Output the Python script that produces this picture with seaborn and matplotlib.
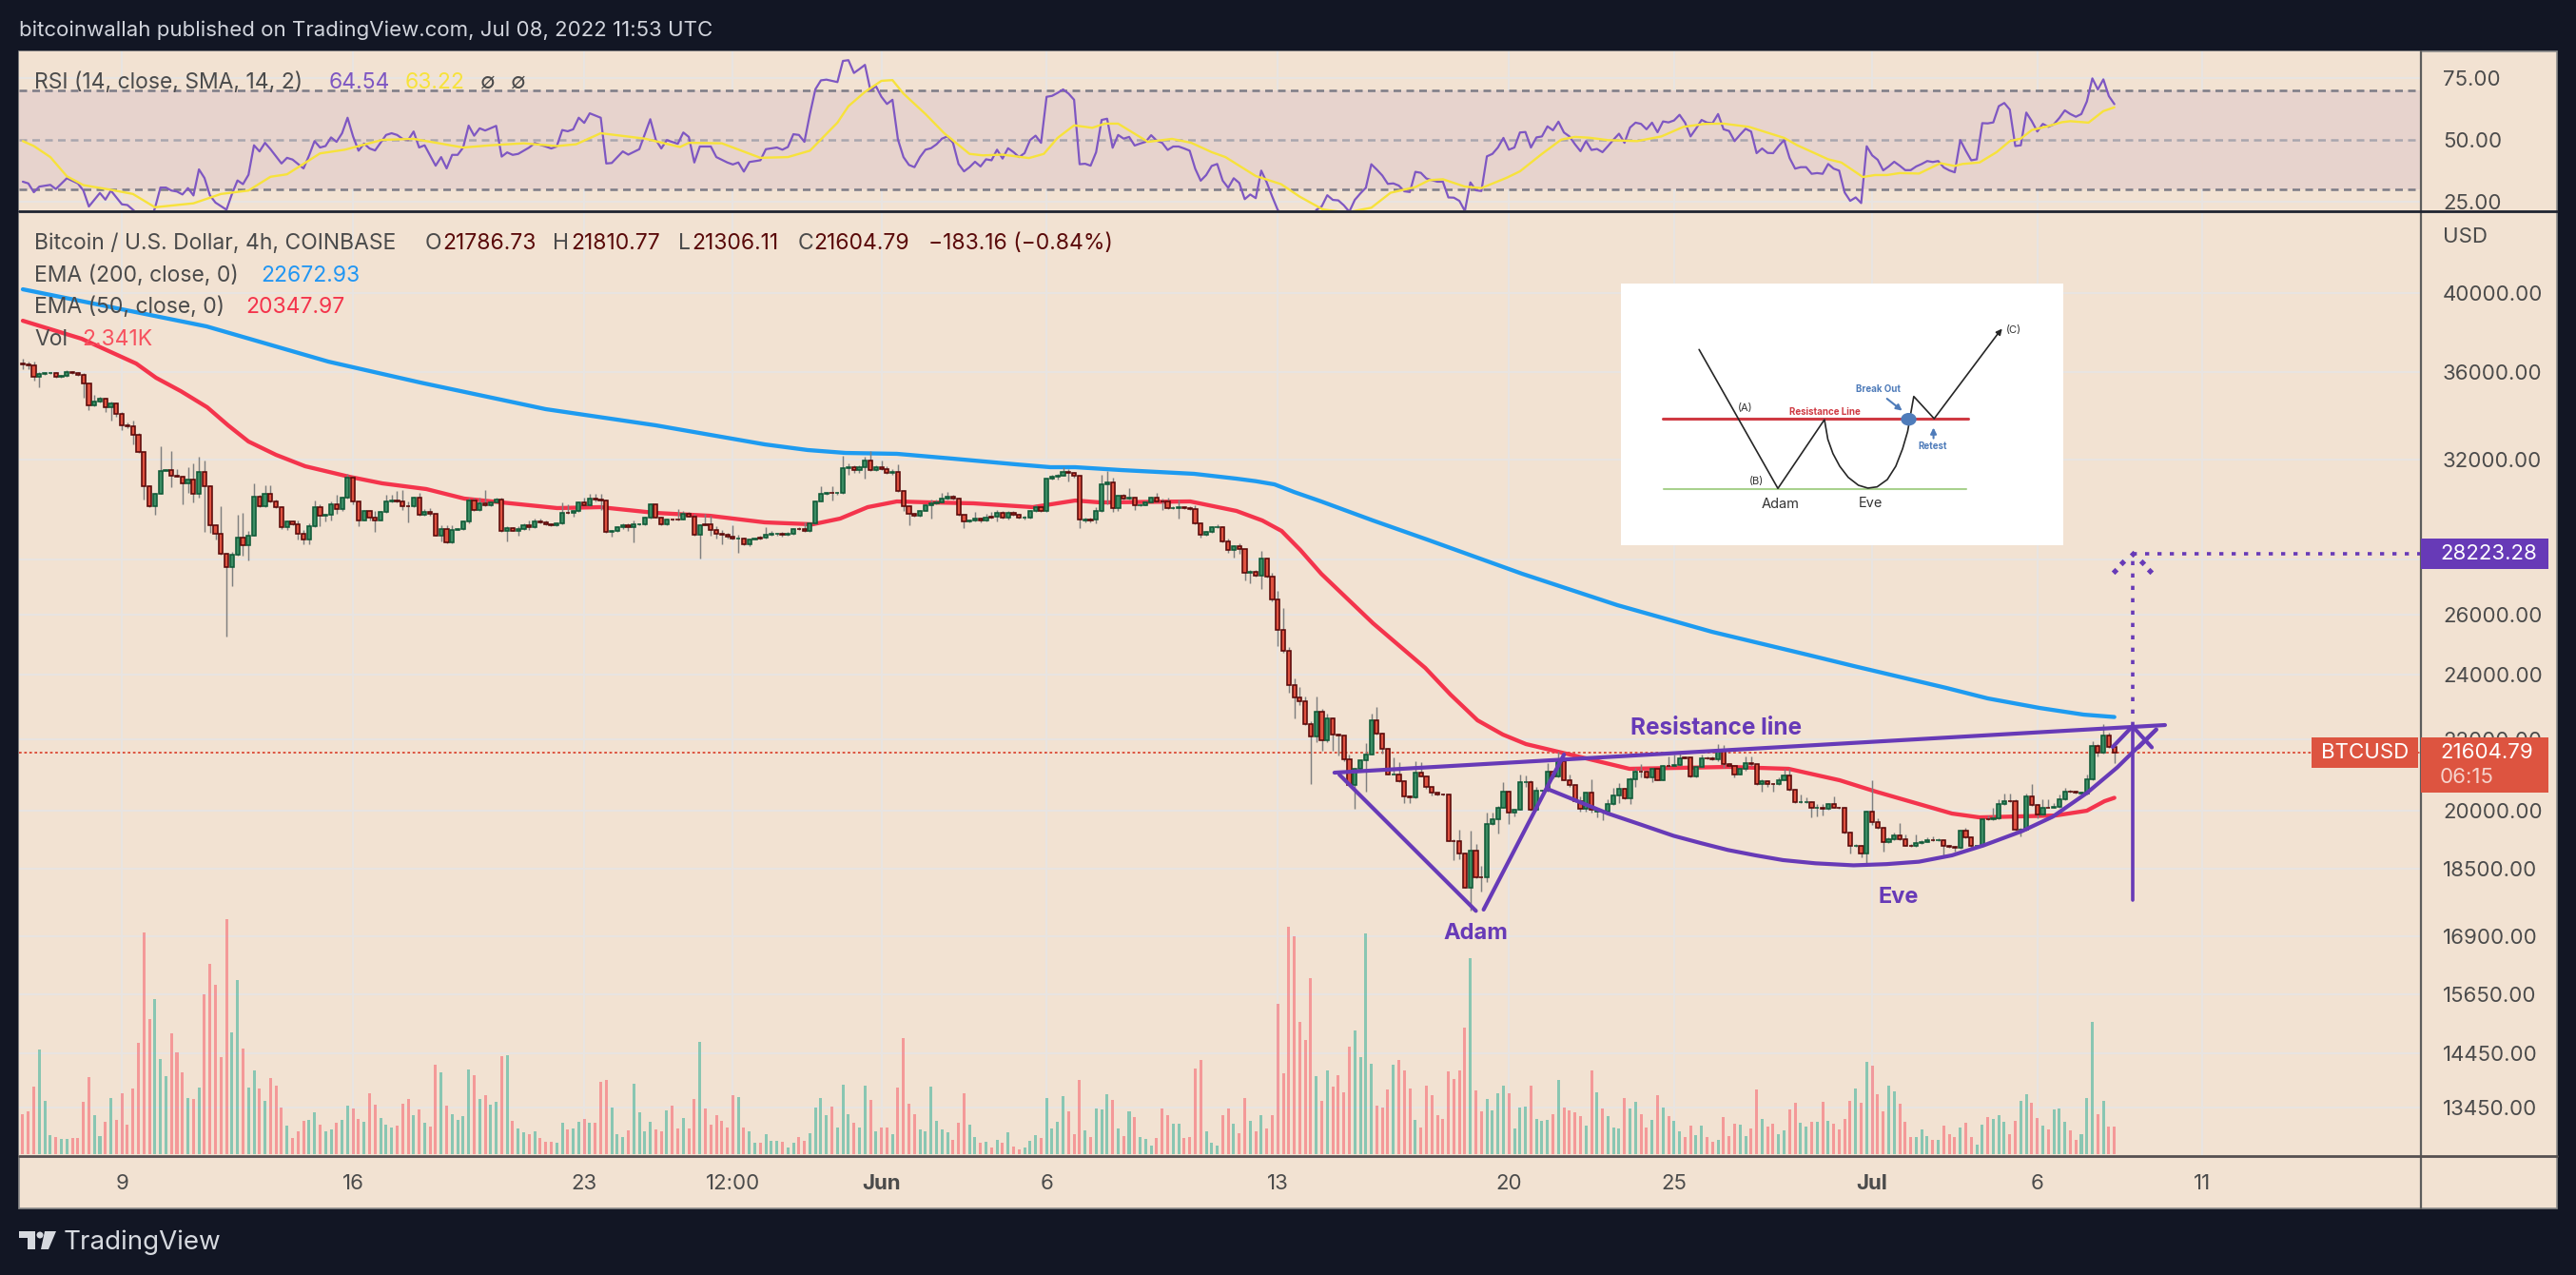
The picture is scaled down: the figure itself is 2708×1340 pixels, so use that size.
import matplotlib
matplotlib.use('Agg')
import numpy as np
import pandas as pd
import matplotlib.pyplot as plt
import seaborn as sns
from matplotlib.patches import Rectangle, Polygon, Ellipse
from matplotlib.lines import Line2D
from matplotlib.ticker import NullLocator, NullFormatter

W, H = 2708, 1340

# 4h closes, one value per candle
closes = [
    36330,36290,35760,35880,35925,35940,35760,35805,36000,35925,
    35850,35427,34400,34576,34735,34315,34503,34010,33518,33474,
    33068,32318,30894,30056,30578,31533,31560,31307,31280,30988,
    31160,30553,31493,30894,29294,28964,28219,27700,28182,28842,
    28525,28916,30464,30056,30578,30273,30018,29233,29469,29331,
    28989,28745,29258,30018,29699,29724,30146,29941,30400,31254,
    30260,29508,29890,29597,29508,29826,30273,30311,30247,30081,
    30056,30400,29737,29826,29763,28916,29172,28635,29136,29160,
    29444,30311,29916,30184,30107,30235,30336,29075,29197,29099,
    29172,29307,29221,29469,29418,29343,29319,29368,29814,29801,
    29890,30235,30107,30387,30336,30311,29050,29075,29246,29307,
    29221,29331,29356,29597,30133,29622,29331,29546,29520,29533,
    29763,29661,28928,29319,29331,29136,28964,28940,28867,28794,
    28794,28561,28770,28782,28818,28928,28977,28989,28940,28977,
    29172,29160,29087,29380,30273,30578,30591,30591,30591,31653,
    31680,31546,31693,31958,31560,31693,31586,31453,31466,30682,
    30081,29763,29686,29890,30120,30184,30235,30375,30464,30375,
    29724,29456,29508,29571,29482,29622,29635,29814,29597,29814,
    29724,29610,29597,29890,30018,29865,31187,31280,31320,31493,
    31453,31307,29533,29508,29520,29865,30974,31027,29980,30502,
    30375,30400,30094,30120,30235,30426,30247,30247,29980,30005,
    30043,29992,29967,29380,28928,29038,29221,29246,28684,28341,
    28500,28390,27500,27550,27397,28017,27362,26527,25467,24759,
    23659,23264,23146,22457,22088,22839,21965,22628,22155,22107,
    21414,20698,21142,21396,21569,22562,22174,21732,21006,21006,
    20811,20376,20367,21051,20951,20637,20480,20436,20436,19212,
    19212,18892,18040,18948,18298,18298,19654,19779,20089,20524,
    19938,20029,20767,20785,20029,20541,20541,21078,20933,21369,
    20845,20689,20263,20046,20480,20029,19963,19963,20176,20419,
    20594,20324,20872,21069,21069,20915,21142,20845,21233,21233,
    21251,21460,21469,20933,21206,21460,21460,21414,21687,21278,
    21233,21006,21142,21315,21278,20715,20802,20724,20715,20845,
    20979,20567,20220,20237,20237,20072,20072,20046,20176,20089,
    20072,19420,19068,19084,18892,19988,19687,19546,19172,19254,
    19354,19254,19092,19092,19156,19188,19220,19237,19229,19076,
    19052,19020,19462,19296,19068,19068,19779,19779,19796,20176,
    20263,20263,19504,19504,20376,20159,19904,20089,20089,20107,
    20306,20524,20506,20480,20463,20872,21823,21623,22107,21786.73,
    21604.79]
first_open = 36400

# wick length above / below the body, USD
wick_up = [
    230,150,200,100,60,50,60,40,70,40,
    50,80,0,320,60,20,100,60,90,130,
    260,100,20,30,10,1050,30,800,280,40,
    510,680,650,480,30,60,1100,10,100,880,
    970,160,520,60,340,340,60,60,40,40,
    170,150,120,260,130,40,130,380,60,130,
    60,10,10,20,290,60,260,220,390,480,
    190,60,190,120,160,10,150,150,180,40,
    60,90,90,220,550,40,60,60,60,40,
    90,70,200,100,100,90,40,40,420,330,
    10,40,170,170,190,220,30,60,10,60,
    90,170,30,40,50,20,10,30,30,400,
    120,60,100,10,420,350,120,170,70,450,
    160,40,10,50,70,290,100,20,50,60,
    20,60,280,60,10,290,60,290,60,520,
    150,90,50,160,400,50,260,130,150,340,
    30,40,40,10,30,150,100,250,170,70,
    20,10,10,250,30,140,190,100,80,50,
    80,40,60,30,130,50,30,80,70,190,
    90,40,10,60,80,180,370,480,220,30,
    50,420,30,50,60,30,200,130,170,70,
    290,40,60,140,30,40,40,120,30,90,
    20,110,10,60,60,300,20,130,320,780,
    150,220,350,150,80,460,80,150,20,30,
    20,140,30,10,320,210,410,30,20,470,
    350,20,30,320,290,20,20,20,20,10,
    40,280,10,520,180,290,300,180,40,260,
    10,20,230,170,40,110,30,240,20,270,
    270,160,20,130,20,390,40,60,130,190,
    150,20,40,110,220,30,40,20,20,270,
    300,180,40,20,20,90,50,50,170,140,
    50,20,50,190,200,20,70,30,30,70,
    170,170,20,210,120,20,110,110,30,220,
    20,20,20,50,20,20,850,110,20,40,
    70,310,120,40,220,30,70,100,30,20,
    40,20,40,80,20,20,20,100,290,130,
    210,210,40,40,100,340,20,210,210,110,
    130,110,40,40,40,130,130,40,350,100,
    24]
wick_down = [
    220,150,180,520,30,40,40,60,30,30,
    30,640,190,50,40,220,610,130,210,100,
    420,30,570,40,320,10,20,450,20,840,
    390,350,130,1850,290,200,40,2450,680,30,
    370,580,30,20,20,60,20,70,100,20,
    220,160,190,30,430,240,210,170,50,20,
    110,220,10,90,440,20,10,40,40,180,
    620,40,40,40,60,20,240,10,10,30,
    30,60,30,30,30,30,30,30,380,30,
    200,40,110,30,20,30,60,60,30,40,
    160,60,30,30,60,400,40,190,40,80,
    140,590,20,40,10,20,20,20,20,40,
    10,30,40,880,10,240,190,370,90,30,
    550,40,60,30,20,30,40,80,70,50,
    30,30,20,20,30,30,50,310,50,20,
    290,90,90,500,40,40,40,40,80,30,
    220,440,50,50,30,540,40,20,30,40,
    30,260,50,60,70,40,40,180,30,50,
    50,40,60,40,40,40,10,30,130,10,
    360,50,320,70,70,140,40,850,140,120,
    40,40,190,20,20,30,40,340,30,30,
    430,40,50,30,90,40,30,30,30,110,
    260,190,290,370,30,490,30,40,550,50,
    240,640,120,20,1370,170,280,50,470,560,
    40,10,640,30,890,20,20,140,10,20,
    30,160,150,20,20,30,80,30,20,20,
    490,160,10,540,30,340,120,30,390,20,
    300,100,10,110,30,30,30,30,40,20,
    20,40,30,80,70,70,130,210,20,30,
    210,20,150,220,150,20,130,20,20,40,
    30,20,20,20,20,20,30,20,30,90,
    30,90,20,30,30,20,210,70,210,20,
    20,20,20,20,20,240,220,170,20,20,
    20,20,170,20,110,260,60,20,230,20,
    20,20,20,40,40,20,20,20,20,290,
    20,80,20,20,30,20,20,20,20,20,
    20,20,20,170,20,20,100,20,20,20,
    20,20,20,20,20,20,30,110,30,30,
    299]

# candle direction, r = down, g = up
sides = (
    "rrrgggrggr" "rrrggrgrrr" "rrrrgggrrr" "grgrrrrrgg" "rggrgrrrgr"
    "rrggrggrgg" "rrgrrgggrr" "rgrgrrgrgg" "ggrgrggrgr" "ggrgrrrggr"
    "ggrgrrrggg" "rggggrrgrr" "grrgrrrrrr" "grggrgggrg" "grrggggrgg"
    "grggrgrrgr" "rrrggggggr" "rrggrgrgrg" "rrgggrgggg" "rrrgrgggrg"
    "rgrgggrrrg" "grrrrgggrr" "grrgrgrrrr" "rrrrrgrgrr" "rrggggrrrg"
    "rrrgrrrrrr" "rrrgrrgggg" "rgggrgggrg" "rrrrgrgrgg" "grggrrgrgr"
    "ggrrggrrgr" "rrggrrgrrg" "grrggrgrgr" "rrrgrgrrrg" "grrrgggrgr"
    "rrgrrggrgg" "grrggrrgrg" "ggrrgggrgr" "r")

# volume bars, in the picture's bar height (last bar = 2.341K)
volumes = [
    127,136,214,331,169,61,55,49,49,52,
    52,166,244,124,58,103,178,109,193,94,
    208,352,700,427,490,301,247,382,322,259,
    178,175,211,505,601,535,307,742,385,550,
    334,211,265,208,169,241,217,148,91,52,
    73,106,109,133,94,73,79,100,109,154,
    145,112,103,193,157,115,94,85,91,160,
    175,124,142,100,88,283,259,154,127,109,
    121,268,250,175,187,157,166,310,313,106,
    82,70,64,73,52,40,40,37,100,79,
    82,103,112,100,100,229,235,148,64,55,
    76,223,133,73,103,79,73,139,154,82,
    115,82,175,355,145,94,124,106,85,187,
    181,85,73,37,37,64,43,43,40,22,
    37,55,43,67,148,178,124,151,85,220,
    127,100,85,217,172,73,85,85,64,211,
    367,160,127,79,73,214,106,79,70,46,
    100,193,94,55,37,40,22,46,37,70,
    25,16,22,43,61,52,178,82,103,184,
    136,64,235,76,55,145,142,190,172,82,
    58,136,118,55,49,28,52,145,124,97,
    97,52,55,271,298,73,37,28,124,145,
    97,67,178,106,73,124,82,124,475,256,
    718,688,418,361,556,247,169,265,214,250,
    196,340,391,307,697,286,154,148,205,283,
    298,265,208,109,85,217,187,124,112,262,
    238,265,400,619,202,136,175,139,193,217,
    193,82,148,151,217,112,106,109,127,235,
    148,139,133,121,91,265,196,145,121,85,
    82,178,145,166,127,85,109,187,148,121,
    106,73,55,91,61,91,55,40,46,118,
    58,97,94,58,82,205,112,88,97,64,
    76,142,163,100,88,103,103,166,106,97,
    79,112,169,208,163,292,280,190,136,217,
    199,160,103,55,55,79,58,46,46,91,
    64,55,85,100,55,31,94,118,112,124,
    103,64,106,169,190,163,115,91,79,142,
    145,103,76,46,64,178,418,127,169,88,
    88]

ema200_bars = [0,33.4,55.5,72.2,95,115,134.8,142.6,149.5,158.8,168.9,180.4,186.7,191.2,199.6,212.8,220.5,224,227.4,231,235.9,245.3,255.1,272.4,289.7,306.9,324.2,332.7,349.5,357,366.4,374.4,380]
ema200_vals = [40196,38248,36488,35480,34238,33504,32660,32414,32288,32250,32044,31800,31678,31678,31556,31398,31196,31090,30958,30640,30258,29496,28756,27466,26336,25412,24646,24272,23572,23244,22950,22746,22672.93]
ema50_bars = [0,10.7,20.6,24.2,28.7,33.5,37.3,41,46,51.3,59.3,65.3,73.3,80.2,97.1,104.9,114.9,124.8,134.8,143.5,148.5,153.5,158.8,165,172.7,183.5,191.2,195.8,212.1,220.5,225.2,228.7,232.1,235.9,245.3,254.8,259.4,264.3,268.9,273.1,284,291.9,309.9,320.8,330.1,336.7,350.5,355.5,369.3,375,378.2,380]
ema50_vals = [38540,37620,36392,35706,35074,34324,33504,32786,32206,31718,31276,31000,30764,30374,29990,30028,29798,29684,29422,29346,29572,30028,30258,30218,30182,30028,30296,30218,30258,29876,29496,29086,28354,27466,25706,24212,23362,22572,22146,21866,21452,21154,21208,21154,20832,20516,19924,19822,19872,20000,20256,20347.97]

rsi_bars = [0,1,2,3,5,6,8,10,11,12,14,15,16,18,19,20,22,23,24,25,26,27,28,29,30,31,32,33,34,35,37,38,39,40,41,42,43,44,45,47,48,49,51,52,53,54,55,56,57,58,59,60,61,62,63,64,66,67,68,69,70,71,72,73,75,76,77,78,79,80,81,82,83,84,86,87,88,89,90,92,93,95,96,97,98,99,100,101,102,103,105,106,107,109,110,112,114,115,116,117,119,120,121,122,123,125,126,128,129,130,131,132,134,135,137,138,139,140,141,142,143,144,145,146,148,
    149,150,151,152,153,154,155,156,157,158,159,160,161,162,163,164,165,166,167,168,169,170,171,172,173,174,175,176,177,178,179,180,181,182,183,184,185,186,187,188,189,190,191,192,193,194,195,196,197,198,199,200,201,202,203,204,205,206,207,208,209,210,211,212,213,214,215,216,217,218,219,220,221,222,223,224,225,226,227,228,229,230,231,233,234,235,
    236,237,238,239,240,241,242,243,244,245,246,247,248,249,250,251,252,253,254,255,256,257,258,259,260,261,262,263,264,265,266,267,268,269,270,271,272,273,274,275,276,277,278,279,280,281,282,283,284,285,286,287,288,289,290,291,292,293,294,295,296,297,298,299,300,301,302,303,304,305,306,307,308,309,310,311,312,313,314,315,316,317,318,319,320,321,322,323,324,325,326,327,328,329,330,331,332,333,334,335,336,337,338,339,340,341,342,343,344,345,346,347,348,349,350,351,352,353,354,355,356,357,358,359,360,361,362,363,364,365,366,367,368,369,370,371,372,373,374,375,376,377,378,379,380]
rsi_vals = [33,32.3,28.7,31,31.7,30,34.4,32.3,29.4,22.9,28.4,25.7,29.4,23.8,23.5,21.6,17.7,16.4,22.2,30.6,30.6,29.4,29,27.8,30.4,27.4,38,34.5,27.4,24.5,21.6,28,33.5,32,35.8,47.8,45.3,48.8,46.2,40.4,42.7,42,38.4,43.6,49.5,46.9,47.5,51,49.2,52.7,59,51.4,45.6,48.5,46.5,45.7,52,52.7,52,50.4,49.9,53.4,46.9,47.8,39.5,43,38.4,43.9,43.9,46.9,55.8,51.7,54.7,53.8,55.7,43.2,44.9,43.9,44.3,46.9,48.7,47.3,46.5,47.3,54,53.5,54.3,59,56.9,60.8,59,40.4,40.6,45.3,44,46.2,58.4,50.1,46.5,49.9,48.4,53,51.2,40.8,47.3,47.3,43,40.8,40,40.8,37.1,41,41.7,46.2,46.9,46,47.1,52.3,52,49.2,60.5,70.6,74.2,74.5,73.5,
    82.1,82.4,77.2,78.8,80.5,70.1,71.8,67.5,64.6,66.3,50.1,43,39.8,38.9,43,46,46.6,48.2,50.5,51.4,48.8,40.2,37.2,38.9,41.1,39.2,42.1,41.7,46,42.4,46.6,45,43,44.6,49.9,51.7,48.8,67.5,67.9,69.1,70.5,68.8,66.3,40.1,40.3,39.5,45,58.1,58.6,46.8,52,50.5,51.2,47.7,48.5,49.2,51.9,49.7,48.8,45.9,47.3,47.3,46.5,45.6,38.3,33.4,35.7,39.4,40.2,33.4,30.5,34.4,32.5,25.9,27.8,26.3,37.5,32.7,26.9,21.5,19.2,11.4,8.8,12,16,21.5,
    23,27.5,25.6,25.4,23.4,20.8,25.6,28.2,30.5,40.1,37.9,35.5,32.1,32.3,31.4,29.1,28.8,37,36.6,34.3,33.6,33,33,26.6,26.5,25.2,21.1,32.7,29.5,29.2,43.3,44.3,46.9,50.8,46,46.9,53,53.2,46.9,51,51.4,55.5,53.9,57.4,53,51.4,48.2,45.4,49.5,45.9,46.3,45,47.5,50.1,52.5,48.8,55,57,56.5,54.3,57,53.1,57.5,57.1,57.9,60.2,57,51.4,54.6,58.1,57,56.8,60.5,54.3,53.6,49.5,52.1,54.5,53.4,44.6,46.5,44.7,44.6,47.5,49.9,42.6,38.3,38.9,38.9,36.2,36.5,36.2,40.2,38.3,37.5,28.6,25.2,26.6,24.3,47.4,43.7,41.9,37.6,39.2,41.1,39.5,37.7,37.7,39.2,40.2,41.4,41,41.4,38.8,37.6,36.8,49.9,45.6,41.7,42.1,56.8,56.7,57.1,63.7,65,62.3,47.5,47.8,61.1,57.6,53.4,56.5,55.3,56.3,58.9,62,60.5,59.4,60.5,65.6,75,70.5,74.6,67.8,64.54]

rsi_ma_bars = [0,2,5,8,11,16,20,24,31,36,41,45,48,54,58.5,65.3,71,80,85,91,97,100.5,105,113,119.4,121,127,134,139,143,148,150,153,156,158,160,164,167.4,172,174.4,178,182.8,185.5,188,191,194.3,196.6,199,204.4,208.8,212.3,216,218.5,224,228.6,232,236.2,240.5,245,248.5,253,255.5,258,262,265,269.6,272,276,279.5,282,284.5,288,293.3,297.7,301.7,305.6,309,313.6,320,322.4,328,330.4,334.3,336.5,338.7,341,344.5,348.4,351,352.4,355.5,358.6,361,363,365,367.8,370.5,372,375.3,378,380]
rsi_ma_vals = [49.5,47.5,43,35.2,31.6,29.7,28,22.6,24.2,28,29.4,35,36,44.5,46,50,50.4,46.9,47.8,48.6,47.5,48.2,52.7,50.5,47.1,48.8,48.6,42.7,43,45.6,57,63.7,69.5,74,74.3,68.8,60.5,52.7,44.3,43.7,44,42.6,44.3,50.8,55.9,54.9,56.6,56.6,49.2,50.4,48.8,45,43,35.3,32,26.9,21.7,20.5,22.4,28.5,30.8,33.6,34,31,30.4,34.6,37.2,44.3,50.1,51.2,50.9,49.9,49.5,51.4,55.3,56.5,56.6,55.3,50.8,47.8,42.1,40.8,34.9,35.7,35.7,36.5,36.3,40.5,39.4,40.2,40.8,45,49.5,50.5,54,55.5,57.2,57.6,57,61.7,63.22]

# purple drawings on the chart
resist_bars, resist_vals = [238.3, 389.2], [21045, 22430]
adam_left_bars, adam_left_vals = [239.2, 264], [20990, 17490]
adam_right_bars, adam_right_vals = [265.4, 280], [17520, 21560]
eve_bars = [277.1,288,294,299.9,304.9,309.8,314.8,319.8,325.7,332.6,338.6,344.5,350.5,356.3,363.3,368.8,375,380.5,383.3,387.6]
eve_vals = [20585,19925,19630,19340,19150,18975,18840,18720,18640,18590,18620,18680,18840,19095,19465,19840,20480,21190,21625,22296]
arrow_bars, arrow_vals = [379.7, 383.3, 386.8], [21782, 22393, 21770]
cross_bars, cross_vals = [384.4, 387.6], [21770, 22296]
target_bar = 383.3
target_low, target_tip, target_price = 17744, 22393, 28223.28
tip_bars, tip_vals = [380.1,381.5,383.3,385.1,386.5], [27570,27900,28223,27900,27570]
last_price = 21604.79

price_ticks = [40000,36000,32000,28000,26000,24000,22000,20000,18500,16900,15650,14450,13450]
rsi_ticks = [75, 50, 25]
date_bars = [18,60,102,129,156,186,228,270,300,336,366,396]
date_labels = ['9','16','23','12:00','Jun','6','13','20','25','Jul','6','11']

BG = '#f2e2d2'
DARK = '#121624'
GRID = '#e8e4e1'
TXT = '#4b4b4b'
PURPLE = '#673ab7'
GRAY = '#5d5d5d'
UP_VOL, DOWN_VOL = '#22ab94', '#f7525f'
LEGEND_SIZE = 16.5

sns.set_theme(style='white')
plt.rcParams['font.family'] = ['Inter', 'DejaVu Sans']

fig = plt.figure(figsize=(W/100, H/100), dpi=100, facecolor=DARK)


def px_axes(x0, y0, x1, y1, **kw):
    return fig.add_axes([x0/W, 1-y1/H, (x1-x0)/W, (y1-y0)/H], **kw)


def px_text(x, y, s, color=TXT, size=LEGEND_SIZE, **kw):
    kw.setdefault('va', 'center')
    kw.setdefault('ha', 'left')
    fig.text(x/W, 1-y/H, s, color=color, fontsize=size, zorder=10, **kw)


def px_rect(x0, y0, x1, y1, zorder=5, **kw):
    fig.add_artist(Rectangle((x0/W, 1-y1/H), (x1-x0)/W, (y1-y0)/H,
                             transform=fig.transFigure, zorder=zorder, **kw))


def px_line(x0, y0, x1, y1, color=GRAY, lw=1.6, zorder=4):
    fig.add_artist(Line2D([x0/W, x1/W], [1-y0/H, 1-y1/H], color=color, lw=lw,
                          transform=fig.transFigure, zorder=zorder))


px_rect(20, 54, 2688, 1270, zorder=-1, facecolor=BG, edgecolor='#8c8c8c', linewidth=1.2)

# x position in bars: bar 0 sits at 24 px, 5.786 px per bar
xlim = (-0.69, 435.7)

# RSI pane
ax_rsi = px_axes(20, 54, 2545, 221)
ax_rsi.set_facecolor(BG)
ax_rsi.axhspan(30, 70, color='#e7d3cd', lw=0)
ax_rsi.set_xticks(date_bars)
ax_rsi.set_xticklabels([])
ax_rsi.set_yticks(rsi_ticks)
ax_rsi.set_yticklabels(['%.2f' % t for t in rsi_ticks])
ax_rsi.yaxis.tick_right()
ax_rsi.tick_params(length=0, labelsize=16, labelcolor=TXT, pad=16.5)
ax_rsi.grid(True, color=GRID, lw=1.45)
ax_rsi.set_axisbelow(True)
for level, col in [(70, '#7c7b86'), (50, '#a9a6ae'), (30, '#7c7b86')]:
    ax_rsi.axhline(level, color=col, lw=1.8, ls=(0, (3.2, 2.2)), zorder=2)
sns.lineplot(x=rsi_bars, y=rsi_vals, ax=ax_rsi, color='#7e57c2', lw=1.6, estimator=None, sort=False, zorder=3)
sns.lineplot(x=rsi_ma_bars, y=rsi_ma_vals, ax=ax_rsi, color='#f7e23b', lw=1.7, estimator=None, sort=False, zorder=4)
ax_rsi.set_xlim(xlim)
ax_rsi.set_ylim(21.37, 85.98)

# price pane, log scale like the chart
ax = px_axes(20, 223, 2545, 1215)
ax.set_facecolor(BG)
ax.set_yscale('log')
ax.set_yticks(price_ticks)
# the 28000 label sits behind the target price tag in the original
ax.set_yticklabels(['' if t == 28000 else '%.2f' % t for t in price_ticks])
ax.yaxis.set_minor_locator(NullLocator())
ax.yaxis.set_minor_formatter(NullFormatter())
ax.yaxis.tick_right()
ax.set_xticks(date_bars)
ax.set_xticklabels(date_labels)
for lab in ax.get_xticklabels():
    if lab.get_text() in ('Jun', 'Jul'):
        lab.set_fontweight('bold')
ax.tick_params(axis='y', length=0, labelsize=16, labelcolor=TXT, pad=16.5)
ax.tick_params(axis='x', length=0, labelsize=16, labelcolor=TXT, pad=14)
ax.grid(True, color=GRID, lw=1.45)
ax.set_axisbelow(True)

bars = np.arange(len(closes))
closes_arr = np.array(closes, dtype=float)
opens = np.r_[first_open, closes_arr[:-1]]
tops = np.maximum(opens, closes_arr)
bottoms = np.minimum(opens, closes_arr)
is_up = np.array([s == 'g' for s in sides])

ax.axhline(last_price, color='#dd5440', lw=1.4, ls=(0, (1.4, 1.4)), zorder=1.5)
sns.lineplot(x=ema200_bars, y=ema200_vals, ax=ax, color='#1e9bf0', lw=3.1, estimator=None, sort=False, zorder=2)
sns.lineplot(x=ema50_bars, y=ema50_vals, ax=ax, color='#f4344c', lw=3.1, estimator=None, sort=False, zorder=2)

ax.vlines(bars, bottoms-np.array(wick_down), tops+np.array(wick_up), color='#7f7f7f', lw=1.05, zorder=3)
ax.bar(bars, tops-bottoms, bottom=bottoms, width=0.72, zorder=4,
       color=np.where(is_up, '#3c8d64', '#df5240'),
       edgecolor=np.where(is_up, '#0f5a37', '#5a0808'), linewidth=1.15)

for xs, ys in [(resist_bars, resist_vals), (adam_left_bars, adam_left_vals),
               (adam_right_bars, adam_right_vals), (eve_bars, eve_vals),
               (arrow_bars, arrow_vals), (cross_bars, cross_vals)]:
    sns.lineplot(x=xs, y=ys, ax=ax, color=PURPLE, lw=3, estimator=None, sort=False, zorder=6)
ax.plot([target_bar, target_bar], [target_low, target_tip], color=PURPLE, lw=2.6, zorder=6)
ax.plot([target_bar, target_bar], [target_tip, target_price], color=PURPLE, lw=2.6, ls=(0, (1.2, 2.4)), zorder=6)
ax.plot([target_bar, xlim[1]], [target_price, target_price], color=PURPLE, lw=2.6, ls=(0, (1.2, 2.4)), zorder=6)
sns.scatterplot(x=tip_bars, y=tip_vals, ax=ax, color=PURPLE, s=14, marker='D', linewidth=0, zorder=6)

ax.set_xlim(xlim)
ax.set_ylim(12596, 44568)

# volume on its own scale, same pane
ax_vol = px_axes(20, 223, 2545, 1215)
ax_vol.patch.set_alpha(0)
vol_df = pd.DataFrame({'bar': bars, 'volume': volumes, 'side': list(sides)})
sns.barplot(data=vol_df, x='bar', y='volume', hue='side', ax=ax_vol, native_scale=True,
            palette={'g': UP_VOL, 'r': DOWN_VOL}, dodge=False, width=0.52, alpha=0.5,
            saturation=1, linewidth=0, errorbar=None, legend=False)
ax_vol.set_xlim(xlim)
ax_vol.set_ylim(-6, 2970)
ax_vol.axis('off')

for axis in (ax_rsi, ax):
    for name, sp in axis.spines.items():
        sp.set_visible(False)

# frame lines
px_line(2545, 54, 2545, 1270, lw=1.6)
px_line(20, 222, 2688, 222, color='#1f2330', lw=2)
px_line(20, 1215, 2688, 1215, color='#555050', lw=2)

# reference picture of the pattern
ax_in = px_axes(1704, 298, 2169, 573, zorder=5)
ax_in.set_facecolor('white')
ax_in.set_xlim(151, 1453)
ax_in.set_ylim(879, 54)
ax_in.set_xticks([])
ax_in.set_yticks([])
for sp in ax_in.spines.values():
    sp.set_visible(False)
ax_in.plot([273, 1172], [480, 480], color='#cf3a43', lw=2.2)
ax_in.plot([278, 1166], [702, 702], color='#a9d18e', lw=1.5)
wx = [381,613,750,760,775,795,820,850,878,905,935,960,980,995,1003,1013,1073,1262]
wy = [262,700,483,545,590,630,665,690,699,695,672,630,575,520,470,410,480,210]
ax_in.plot(wx, wy, color='#262626', lw=1.2)
ax_in.annotate('', xy=(1278, 190), xytext=(1255, 220), arrowprops=dict(arrowstyle='-|>', color='#262626', lw=1.2, mutation_scale=9))
ax_in.add_patch(Ellipse((998, 482), 42, 36, color='#4f7cba', zorder=3))
ax_in.annotate('', xy=(985, 460), xytext=(928, 412), arrowprops=dict(arrowstyle='-|>', color='#4f7cba', lw=1.5, mutation_scale=9))
ax_in.annotate('', xy=(1071, 500), xytext=(1071, 550), arrowprops=dict(arrowstyle='-|>', color='#4f7cba', lw=1.5, mutation_scale=9))
for x, y, s, col, fs, fw in [(752, 459, 'Resistance Line', '#cf3a43', 7, 'bold'),
                             (907, 387, 'Break Out', '#4f7cba', 7, 'bold'),
                             (1067, 566, 'Retest', '#4f7cba', 7, 'bold'),
                             (516, 447, '(A)', '#333333', 8, 'normal'),
                             (551, 677, '(B)', '#333333', 8, 'normal'),
                             (1307, 200, '(C)', '#333333', 8, 'normal'),
                             (619, 750, 'Adam', '#333333', 10.5, 'normal'),
                             (887, 746, 'Eve', '#333333', 10.5, 'normal')]:
    ax_in.text(x, y, s, color=col, fontsize=fs, fontweight=fw, ha='center', va='center')

# header text
px_text(20, 32, 'bitcoinwallah published on TradingView.com, Jul 08, 2022 11:53 UTC', color='#d1d4dc', size=16)

px_text(36, 87, 'RSI (14, close, SMA, 14, 2)')
px_text(346, 87, '64.54', color='#7e57c2')
px_text(426, 87, '63.22', color='#f7e23b')
px_text(505, 87, '\u2205')
px_text(537, 87, '\u2205')

px_text(36, 256, 'Bitcoin / U.S. Dollar, 4h, COINBASE')
OHLC_RED = '#5a0a0a'
for x, s, col in [(447, 'O', TXT), (465, '21786.73', OHLC_RED), (581, 'H', TXT), (600, '21810.77', OHLC_RED),
                  (713, 'L', TXT), (727, '21306.11', OHLC_RED), (839, 'C', TXT), (855, '21604.79', OHLC_RED),
                  (976, '\u2212183.16 (\u22120.84%)', OHLC_RED)]:
    px_text(x, 256, s, color=col)
px_text(36, 290, 'EMA (200, close, 0)')
px_text(274, 290, '22672.93', color='#2196f3')
px_text(36, 323, 'EMA (50, close, 0)')
px_text(258, 323, '20347.97', color='#f4344c')
px_text(36, 357, 'Vol')
px_text(86, 357, '2.341K', color='#f7525f')
px_text(2568, 249, 'USD', size=16)

# price tags on the axis
px_rect(2545, 566, 2679, 598, facecolor=PURPLE, linewidth=0)
px_text(2565, 582, '28223.28', color='white', size=16)
px_rect(2430, 775, 2542, 807, facecolor='#dd5440', linewidth=0)
px_text(2486, 791, 'BTCUSD', color='white', ha='center', size=16)
px_rect(2545, 775, 2679, 833, facecolor='#dd5440', linewidth=0)
px_text(2565, 791, '21604.79', color='white', size=16)
px_text(2565, 817, '06:15', color='#f6d3cc', size=16)

# drawing labels
px_text(1804, 765, 'Resistance line', color=PURPLE, size=17.5, ha='center', fontweight='bold')
px_text(1551, 981, 'Adam', color=PURPLE, size=17, ha='center', fontweight='bold')
px_text(1996, 943, 'Eve', color=PURPLE, size=17, ha='center', fontweight='bold')

# logo
LOGO = '#d6d9df'
px_rect(20, 1294, 37, 1301, facecolor=LOGO, linewidth=0)
px_rect(29, 1301, 37, 1313, facecolor=LOGO, linewidth=0)
fig.add_artist(Polygon([(47/W, 1-1294/H), (59/W, 1-1294/H), (51/W, 1-1313/H), (43/W, 1-1313/H)],
                       transform=fig.transFigure, facecolor=LOGO, linewidth=0, zorder=5))
fig.add_artist(Ellipse((42/W, 1-1298/H), 7/W, 7/H, transform=fig.transFigure, facecolor=LOGO, linewidth=0, zorder=5))
px_text(67, 1306, 'TradingView', color=LOGO, size=20)

fig.savefig('out.png', dpi=100, facecolor=fig.get_facecolor())
